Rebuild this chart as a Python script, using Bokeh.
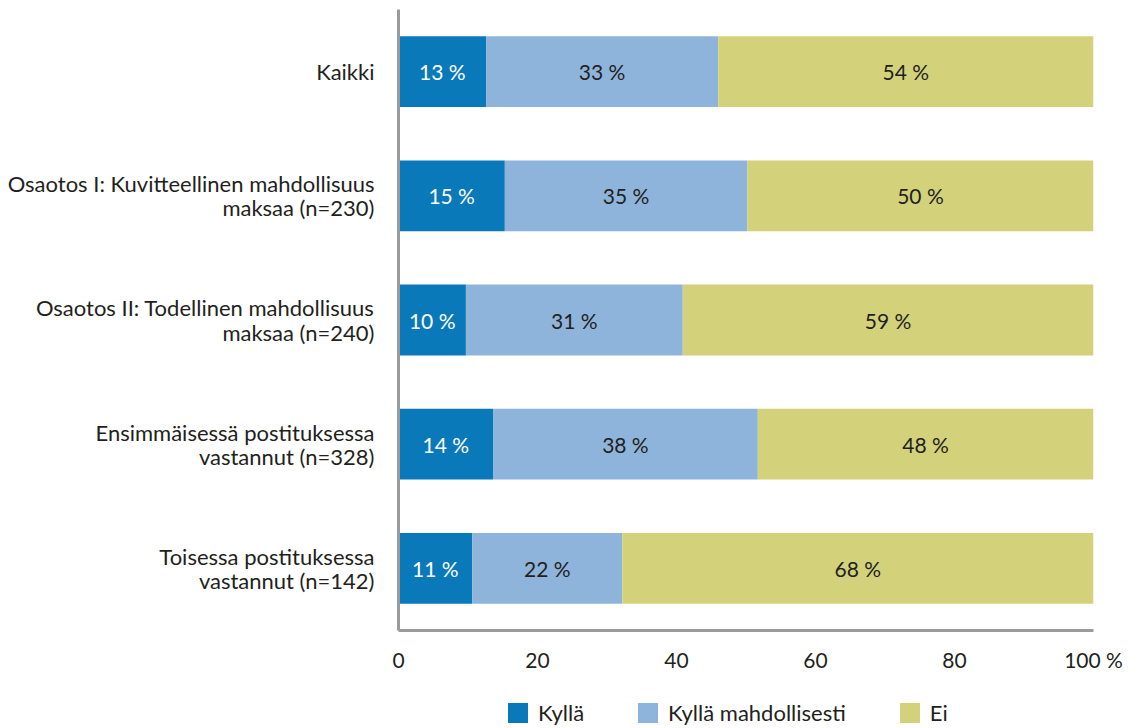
from bokeh.plotting import figure
from bokeh.layouts import column
from bokeh.models import ColumnDataSource, Range1d, FactorRange, Legend, LegendItem, FixedTicker
from bokeh.core.properties import value
from bokeh.embed import file_html
from bokeh.resources import INLINE

categories = ["Kaikki",
              "Osaotos I: Kuvitteellinen mahdollisuus\nmaksaa (n=230)",
              "Osaotos II: Todellinen mahdollisuus\nmaksaa (n=240)",
              "Ensimmäisessä postituksessa\nvastannut (n=328)",
              "Toisessa postituksessa\nvastannut (n=142)"]
kylla = [12.6, 15.3, 9.7, 13.6, 10.6]
kylla_mahd = [33.4, 34.9, 31.2, 38.1, 21.6]
ei = [54.0, 49.8, 59.1, 48.3, 67.8]
series_names = ["Kyllä", "Kyllä mahdollisesti", "Ei"]
x_ticks = [0, 20, 40, 60, 80, 100]
x_tick_labels = ["0", "20", "40", "60", "80", "100 %"]

colors = ["#0a79b9", "#8fb4db", "#d3d27a"]
text_colors = ["#ffffff", "#231f20", "#231f20"]
FONT = "Lato"
TXT = "#231f20"
AX = "#9b9b9b"
FS_NUM = "21px"
FS_CAT = "22px"

W = 1125
MAIN_H = 680
LEG_H = 46
p = figure(width=W, height=MAIN_H, output_backend="svg", toolbar_location=None,
           y_range=FactorRange(*reversed(categories), range_padding=0),
           x_range=Range1d(0, 100),
           min_border_left=398, min_border_right=32, min_border_top=9, min_border_bottom=50)
p.outline_line_color = None
p.xgrid.visible = False
p.ygrid.visible = False

src = ColumnDataSource(dict(cat=categories, k=kylla, km=kylla_mahd, e=ei))
fields = ["k", "km", "e"]
p.hbar_stack(fields, y="cat", height=0.57, color=colors, line_color=None, source=src)

# segment labels
series = [kylla, kylla_mahd, ei]
for si, vals in enumerate(series):
    xs, ys, ts = [], [], []
    for ci, v in enumerate(vals):
        start = sum(series[j][ci] for j in range(si))
        xs.append(start + v / 2)
        ys.append(categories[ci])
        ts.append(f"{round(v)} %")
    p.text(x=xs, y=ys, text=ts, text_align="center", text_baseline="middle",
           text_color=text_colors[si], text_font=value(FONT), text_font_size=FS_NUM)

# axes
p.xaxis.ticker = FixedTicker(ticks=x_ticks)
p.xaxis.major_label_overrides = {t: l for t, l in zip(x_ticks, x_tick_labels)}
for ax in (p.xaxis, p.yaxis):
    ax.axis_line_color = AX
    ax.axis_line_width = 3
    ax.major_tick_line_color = None
    ax.minor_tick_line_color = None
    ax.major_label_text_font = FONT
    ax.major_label_text_color = TXT
p.xaxis.major_label_text_font_size = FS_NUM
p.yaxis.major_label_text_font_size = FS_CAT
p.xaxis.major_label_standoff = 10
p.yaxis.major_label_standoff = 18
p.yaxis.major_label_text_align = "right"
p.yaxis.major_label_text_line_height = 0.9

# legend in a strip below the chart (zero-height bars: only the legend shows)
lg = figure(width=W, height=LEG_H, output_backend="svg", toolbar_location=None,
            x_range=Range1d(101, 102), y_range=FactorRange(*categories),
            x_axis_type=None, y_axis_type=None,
            min_border_left=398, min_border_right=32, min_border_top=0, min_border_bottom=0)
lg.outline_line_color = None
lg.xgrid.visible = False
lg.ygrid.visible = False
leg_rs = lg.hbar_stack(fields, y="cat", height=0, color=colors, line_color=None, source=src)
legend = Legend(items=[LegendItem(label=n, renderers=[r]) for n, r in zip(series_names, leg_rs)],
                orientation="horizontal", location=(107, 0),
                glyph_width=25, glyph_height=25, label_standoff=8, spacing=51,
                padding=0, margin=0, border_line_color=None, background_fill_alpha=0,
                label_text_font=FONT, label_text_font_size=FS_CAT, label_text_color=TXT,
                label_height=25)
lg.add_layout(legend, "center")

open("out.html", "w").write(file_html(column(p, lg, spacing=0), INLINE))
